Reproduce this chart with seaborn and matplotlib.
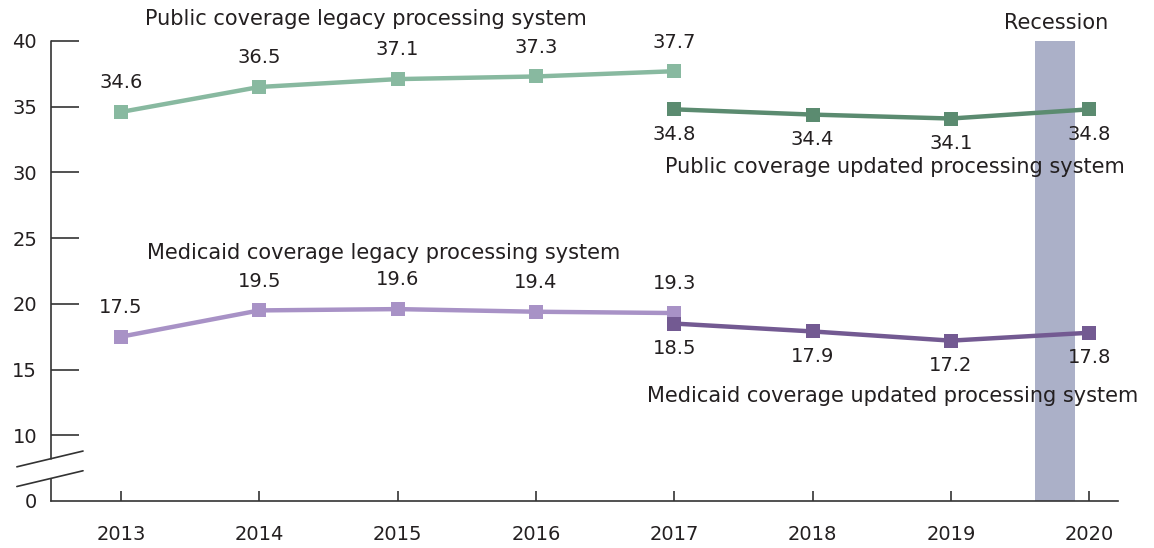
import pandas as pd
import matplotlib
matplotlib.use("Agg")
import matplotlib.pyplot as plt
import seaborn as sns

years = [2013, 2014, 2015, 2016, 2017, 2018, 2019, 2020]
public_legacy = [34.6, 36.5, 37.1, 37.3, 37.7]
public_updated = [34.8, 34.4, 34.1, 34.8]
medicaid_legacy = [17.5, 19.5, 19.6, 19.4, 19.3]
medicaid_updated = [18.5, 17.9, 17.2, 17.8]
legacy_years = years[:5]
updated_years = years[4:]
y_ticks = [5, 10, 15, 20, 25, 30, 35, 40]
y_tick_labels = ["0", "10", "15", "20", "25", "30", "35", "40"]

TXT = "#231f20"
C_PUB_OLD = "#88b9a0"
C_PUB_NEW = "#5b8b70"
C_MED_OLD = "#a892c6"
C_MED_NEW = "#735a92"
FS = 14
FS_TITLE = 15

sns.set_style("white")
plt.rcParams["font.family"] = ["DejaVu Sans"]

fig = plt.figure(figsize=(11.54, 5.48), dpi=100)
ax = fig.add_axes([0.0442, 0.0858, 0.9248, 0.8394])

# recession band
ax.axvspan(2019.61, 2019.90, ymin=0, ymax=1, color="#abb0c8", lw=0, zorder=0)

series = [
    (legacy_years, public_legacy, C_PUB_OLD, 1),
    (updated_years, public_updated, C_PUB_NEW, -1),
    (legacy_years, medicaid_legacy, C_MED_OLD, 1),
    (updated_years, medicaid_updated, C_MED_NEW, -1),
]
for xs, ys, col, side in series:
    df = pd.DataFrame({"year": xs, "val": ys})
    sns.lineplot(data=df, x="year", y="val", ax=ax, color=col, lw=3.2,
                 marker="s", markersize=10, markeredgewidth=0, zorder=3)
    for x, y in zip(xs, ys):
        off = 21 if side > 0 else -18
        ax.annotate(f"{y}", (x, y), xytext=(0, off), textcoords="offset points",
                    ha="center", va="center", fontsize=FS, color=TXT)

ax.text(2013.17, 41.7, "Public coverage legacy processing system",
        fontsize=FS_TITLE, color=TXT, ha="left", va="center")
ax.text(2016.93, 30.4, "Public coverage updated processing system",
        fontsize=FS_TITLE, color=TXT, ha="left", va="center")
ax.text(2013.19, 23.9, "Medicaid coverage legacy processing system",
        fontsize=FS_TITLE, color=TXT, ha="left", va="center")
ax.text(2016.80, 13.0, "Medicaid coverage updated processing system",
        fontsize=FS_TITLE, color=TXT, ha="left", va="center")
ax.text(2019.76, 41.4, "Recession", fontsize=FS_TITLE, color=TXT,
        ha="center", va="center")

ax.set_xlim(2012.494, 2020.21)
ax.set_ylim(5, 40)
ax.set_xticks(years)
ax.set_xticklabels([str(y) for y in years])
ax.set_yticks(y_ticks)
ax.set_yticklabels(y_tick_labels)
ax.set_xlabel("")
ax.set_ylabel("")

for s in ["top", "right", "left"]:
    ax.spines[s].set_visible(False)
ax.spines["bottom"].set_color("#333333")
ax.spines["bottom"].set_linewidth(1.2)

# left axis line with a break between 0 and 10
ytr = ax.get_yaxis_transform()
ax.plot([0, 0], [8.2, 40], transform=ytr, color="#333333", lw=1.2, clip_on=False)
ax.plot([0, 0], [5, 6.7], transform=ytr, color="#333333", lw=1.2, clip_on=False)
for y0 in [8.2, 6.7]:
    ax.plot([-0.032, 0.03], [y0 - 0.6, y0 + 0.6], transform=ytr,
            color="#333333", lw=1.2, clip_on=False)

ax.tick_params(axis="y", direction="in", length=20, width=1.2, color="#333333",
               labelsize=FS, labelcolor=TXT, pad=10, left=True)
ax.tick_params(axis="x", direction="in", length=7, width=1.2, color="#333333",
               labelsize=FS, labelcolor=TXT, pad=17, bottom=True)
ax.yaxis.get_major_ticks()[0].tick1line.set_visible(False)

fig.savefig("out.png", dpi=100)
